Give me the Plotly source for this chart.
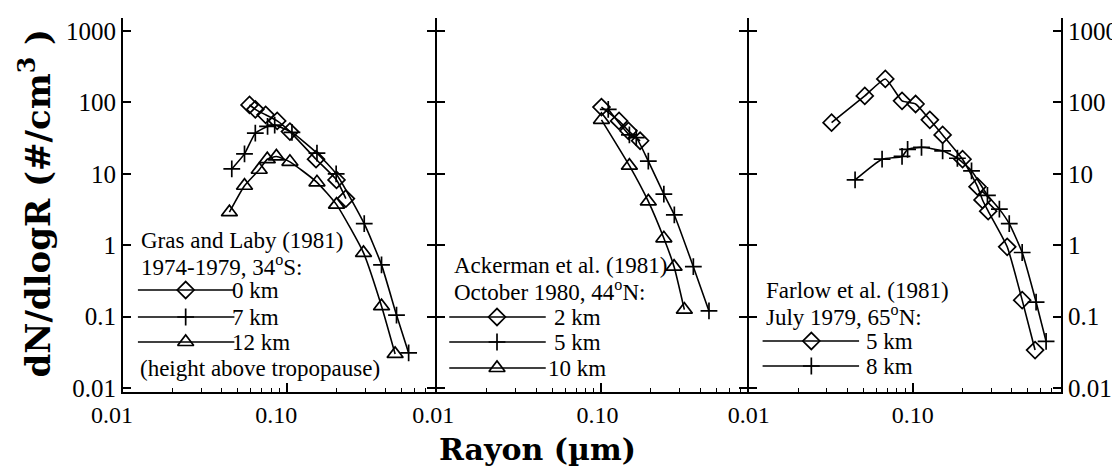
import plotly.graph_objects as go

# ---------------- data ----------------
# Panel 1: Gras and Laby (1981), 1974-1979, 34S
r_gl_0km = [0.059, 0.064, 0.074, 0.087, 0.104, 0.150, 0.200, 0.228]
n_gl_0km = [92, 80, 67, 55, 39, 16, 8.2, 4.5]
r_gl_7km = [0.046, 0.055, 0.064, 0.076, 0.084, 0.107, 0.152, 0.199, 0.295, 0.376, 0.464, 0.550]
n_gl_7km = [11.7, 19, 37, 46, 48, 38, 19.5, 10, 2.0, 0.53, 0.105, 0.031]
r_gl_12km = [0.0445, 0.055, 0.0676, 0.0757, 0.086, 0.104, 0.152, 0.200, 0.292, 0.376, 0.455]
n_gl_12km = [2.9, 6.8, 11.4, 16, 17.5, 14.7, 7.6, 3.7, 0.78, 0.14, 0.030]

# Panel 2: Ackerman et al. (1981), October 1980, 44N
r_ac_2km = [0.100, 0.128, 0.146, 0.172]
n_ac_2km = [86, 55, 40, 29]
r_ac_5km = [0.110, 0.148, 0.163, 0.193, 0.240, 0.278, 0.363, 0.452]
n_ac_5km = [80, 35, 32, 15, 5.2, 2.65, 0.50, 0.12]
r_ac_10km = [0.100, 0.148, 0.193, 0.240, 0.277, 0.320]
n_ac_10km = [57, 13, 4.1, 1.25, 0.50, 0.125]

# Panel 3: Farlow et al. (1981), July 1979, 65N
r_fa_5km = [0.032, 0.051, 0.068, 0.086, 0.104, 0.127, 0.152, 0.201, 0.248, 0.266, 0.288, 0.376, 0.464, 0.556]
n_fa_5km = [52, 123, 213, 105, 95, 57, 35, 16, 6.6, 4.3, 3.0, 0.95, 0.17, 0.034]
r_fa_8km = [0.0445, 0.065, 0.086, 0.093, 0.113, 0.152, 0.187, 0.228, 0.285, 0.337, 0.387, 0.464, 0.564, 0.649]
n_fa_8km = [8.2, 16, 17.5, 22, 23.5, 21, 16.5, 11, 5.0, 3.2, 2.0, 0.79, 0.16, 0.045]

x_tickvals = [0.01, 0.1]
x_ticktext = ["0.01", "0.10"]
y_tickvals = [0.01, 0.1, 1, 10, 100, 1000]
y_ticktext = ["0.01", "0.1", "1", "10", "100", "1000"]

legend_titles = [
    ["Gras and Laby (1981)", "1974-1979, 34<sup>o</sup>S:"],
    ["Ackerman et al. (1981)", "October 1980, 44<sup>o</sup>N:"],
    ["Farlow et al. (1981)", "July 1979, 65<sup>o</sup>N:"],
]
legend_labels = [
    ["0 km", "7 km", "12 km"],
    ["2 km", "5 km", "10 km"],
    ["5 km", "8 km"],
]
note_text = "(height above tropopause)"
x_title = "Rayon (µm)"
y_title = "dN/dlogR (#/cm<sup>3</sup> )"

# ---------------- layout helpers ----------------
W, H = 1120, 471
ML, MR, MT, MB = 115, 62, 10, 87
PW = W - ML - MR
PH = H - MT - MB
LW = 2  # axis line width


def px(x):
    return (x - ML) / PW


def py(y):
    return (H - MB - y) / PH


SERIF = "Liberation Serif"
TITLEFONT = "DejaVu Serif"
SYMS = {
    "d": dict(symbol="diamond-open", size=13),
    "p": dict(symbol="cross-thin-open", size=12),
    "t": dict(symbol="triangle-up-open", size=14),
}


def marker(kind):
    m = dict(SYMS[kind])
    m.update(color="black", line=dict(color="black", width=1.7))
    return m


LINE = dict(color="black", width=1.6, shape="spline", smoothing=0.5)

fig = go.Figure()

panels = [
    [(r_gl_0km, n_gl_0km, "d"), (r_gl_7km, n_gl_7km, "p"), (r_gl_12km, n_gl_12km, "t")],
    [(r_ac_2km, n_ac_2km, "d"), (r_ac_5km, n_ac_5km, "p"), (r_ac_10km, n_ac_10km, "t")],
    [(r_fa_5km, n_fa_5km, "d"), (r_fa_8km, n_fa_8km, "p")],
]
for i, series in enumerate(panels):
    sfx = "" if i == 0 else str(i + 1)
    for xs, ys, kind in series:
        fig.add_trace(go.Scatter(x=xs, y=ys, mode="lines+markers", line=LINE,
                                 marker=marker(kind), xaxis="x" + sfx, yaxis="y" + sfx,
                                 showlegend=False, hoverinfo="skip"))

# axes: panel domains in pixels; neighbouring panels are offset by the line width
# so the mirrored line of one panel and the axis line of the next coincide
dom_px = [(ML, 430 - LW / 2), (430 + LW / 2, 743 - LW / 2), (743 + LW / 2, W - MR)]
label_shift = [-11, -4, 0]
minor_vals = [k * 10 ** e for e in (-2, -1) for k in range(2, 10)]
layout = dict(
    width=W, height=H,
    margin=dict(l=ML, r=MR, t=MT, b=MB),
    paper_bgcolor="white", plot_bgcolor="rgba(0,0,0,0)",
    showlegend=False,
    font=dict(family=SERIF, color="black"),
)
for i in range(3):
    sfx = "" if i == 0 else str(i + 1)
    a, b = dom_px[i]
    layout["xaxis" + sfx] = dict(
        type="log", domain=[px(a), px(b)], range=[-2, -2 + (b - a) / 165.0],
        tickmode="array", tickvals=x_tickvals, ticktext=x_ticktext,
        ticks="inside", ticklen=9, tickwidth=1.6, tickcolor="black",
        showline=True, linewidth=LW, linecolor="black", mirror=False,
        showgrid=False, zeroline=False, ticklabelshift=label_shift[i],
        minor=dict(tickmode="array", tickvals=minor_vals, ticks="inside",
                   ticklen=4, tickwidth=1.3, tickcolor="black", showgrid=False),
        tickfont=dict(family=SERIF, size=24, color="black"),
        anchor="y" + sfx,
    )
    layout["yaxis" + sfx] = dict(
        type="log", domain=[0, 1], range=[-2 - 4 / 71.5, 3 + 13 / 71.5],
        tickmode="array", tickvals=y_tickvals, ticktext=y_ticktext,
        ticks="inside", ticklen=8, tickwidth=1.6, tickcolor="black",
        showline=True, linewidth=LW, linecolor="black", mirror="ticks",
        showgrid=False, zeroline=False,
        showticklabels=(i != 1), side="right" if i == 2 else "left",
        tickfont=dict(family=SERIF, size=25, color="black"),
        anchor="x" + sfx,
    )
# overlay axis for the legend keys (paper-like coordinates)
layout["xaxis4"] = dict(domain=[0, 1], range=[0, 1], visible=False, anchor="y4")
layout["yaxis4"] = dict(domain=[0, 1], range=[0, 1], visible=False, anchor="x4")
fig.update_layout(**layout)

# ---------------- legend blocks ----------------
annotations = []
shapes = []
legend_geo = [
    dict(title_x=131, title_y=[233, 257], rows=[282, 309, 334], lx=(130, 227), mx=178, tx=[223, 223, 223]),
    dict(title_x=446, title_y=[257, 282], rows=[309, 334, 360], lx=(443, 540), mx=491, tx=[546, 546, 540]),
    dict(title_x=759, title_y=[282, 307], rows=[333, 358], lx=(758, 855), mx=807, tx=[860, 860]),
]
kinds = [["d", "p", "t"], ["d", "p", "t"], ["d", "p"]]
TXT = dict(family=SERIF, size=23, color="black")
for p in range(3):
    g = legend_geo[p]
    for txt, yy in zip(legend_titles[p], g["title_y"]):
        annotations.append(dict(text=txt, x=px(g["title_x"]), y=py(yy), xref="paper", yref="paper",
                                xanchor="left", yanchor="middle", showarrow=False, font=TXT))
    for k, (lab, yy, tx) in enumerate(zip(legend_labels[p], g["rows"], g["tx"])):
        shapes.append(dict(type="line", xref="paper", yref="paper",
                           x0=px(g["lx"][0]), x1=px(g["lx"][1]), y0=py(yy), y1=py(yy),
                           line=dict(color="black", width=1.6)))
        fig.add_trace(go.Scatter(x=[px(g["mx"])], y=[py(yy)], mode="markers",
                                 marker=marker(kinds[p][k]), xaxis="x4", yaxis="y4",
                                 showlegend=False, hoverinfo="skip"))
        annotations.append(dict(text=lab, x=px(tx), y=py(yy), xref="paper", yref="paper",
                                xanchor="left", yanchor="middle", showarrow=False, font=TXT))
annotations.append(dict(text=note_text, x=px(130), y=py(360), xref="paper", yref="paper",
                        xanchor="left", yanchor="middle", showarrow=False, font=TXT))

# axis titles
annotations.append(dict(text=y_title, x=px(27), y=py(195), xref="paper", yref="paper",
                        xanchor="center", yanchor="middle", textangle=-90, showarrow=False,
                        font=dict(family=TITLEFONT, size=34, color="black", weight="bold")))
annotations.append(dict(text=x_title, x=px(532), y=py(441), xref="paper", yref="paper",
                        xanchor="center", yanchor="middle", showarrow=False,
                        font=dict(family=TITLEFONT, size=30, color="black", weight="bold")))

fig.update_layout(annotations=annotations, shapes=shapes)
fig.write_html("out.html")
